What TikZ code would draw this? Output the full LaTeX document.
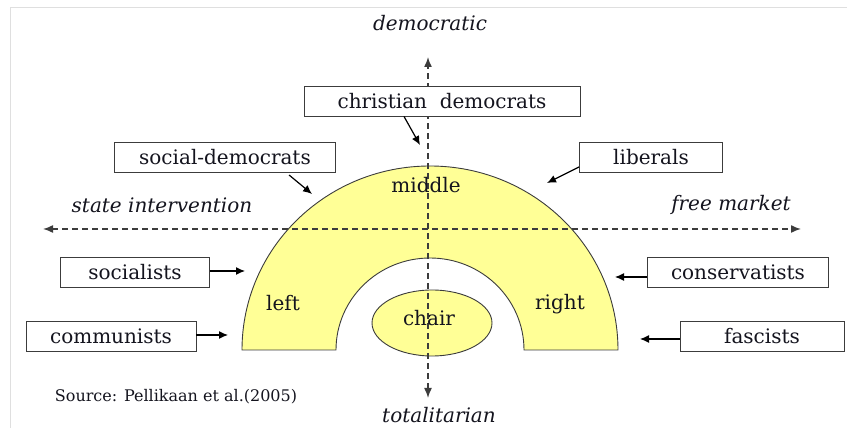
\documentclass[tikz,border=0pt]{standalone}
\usepackage{fontspec}
\setmainfont{DejaVu Serif}
\usepackage{tikz}
\usetikzlibrary{arrows.meta}
\definecolor{archfill}{RGB}{255,255,150}
\definecolor{inkcol}{RGB}{20,20,30}
\definecolor{linecol}{RGB}{60,60,60}

\begin{document}
\begin{tikzpicture}[x=1pt, y=1pt,
      txt/.style={font=\fontsize{20}{22}\selectfont, text=inkcol, inner sep=0pt},
      slant/.style={txt, font=\fontsize{20}{22}\selectfont\itshape},
      party/.style={txt, draw=linecol, fill=white, line width=0.9pt, minimum height=30pt},
      axis/.style={{Latex[length=10pt,width=8pt]}-{Latex[length=10pt,width=8pt]}, dash pattern=on 6pt off 4pt, line width=1.5pt, draw=linecol},
      pointer/.style={-{Latex[length=9pt,width=8pt]}, line width=1.2pt, draw=black}]
      \useasboundingbox (0,0) rectangle (847,428);
      \draw[gray!25, line width=1pt] (10,0) -- (10,420) -- (847,420);
      % hemicycle
      \filldraw[fill=archfill, draw=linecol, line width=0.9pt]
        (242,78) arc[start angle=180, end angle=0, x radius=188, y radius=184]
        -- (524,78) arc[start angle=0, end angle=180, x radius=94, y radius=92] -- cycle;
      \filldraw[fill=archfill, draw=linecol, line width=0.9pt] (432,105) ellipse[x radius=60, y radius=33];
      % axes
      \coordinate (top) at (428,371);
      \coordinate (bottom) at (428,30);
      \coordinate (west) at (43,199);
      \coordinate (east) at (801,199);
      \draw[axis] (bottom) -- (top);
      \draw[axis] (west) -- (east);
      \node[slant] (dem) at (430,405) {democratic};
      \node[slant] (tot) at (439,13) {totalitarian};
      \node[slant] (state) at (162,223) {state intervention};
      \node[slant] (free) at (731,223) {free market};
      \node[txt] (middle) at (426,243) {middle};
      \node[txt] (left) at (283,125) {left};
      \node[txt] (right) at (560,124) {right};
      \node[txt] (chair) at (429,110) {chair};
      \node[txt, font=\fontsize{16}{18}\selectfont] (source) at (176,31) {Source: Pellikaan et al.(2005)};
      % parties
      \node[party, minimum width=276pt] (cd) at (442,327) {christian~~democrats};
      \node[party, minimum width=221pt] (sd) at (225,271) {social-democrats};
      \node[party, minimum width=143pt] (lib) at (651,271) {liberals};
      \node[party, minimum width=149pt] (soc) at (135,156) {socialists};
      \node[party, minimum width=170pt] (com) at (111,92) {communists};
      \node[party, minimum width=181pt] (cons) at (738,156) {conservatists};
      \node[party, minimum width=164pt] (fasc) at (762,92) {fascists};
      \coordinate (cdend) at (420,283);
      \coordinate (sdend) at (312,234);
      \coordinate (libend) at (547,245);
      \coordinate (socend) at (245,157);
      \coordinate (comend) at (228,93);
      \coordinate (consend) at (615,151);
      \coordinate (fascend) at (640,89);
      \draw[pointer] ([xshift=-38pt]cd.south) -- (cdend);
      \draw[pointer, shorten <=4pt] ([xshift=61pt]sd.south) -- (sdend);
      \draw[pointer] ([yshift=-10pt]lib.west) -- (libend);
      \draw[pointer] ([yshift=1pt]soc.east) -- (socend);
      \draw[pointer] ([yshift=1pt]com.east) -- (comend);
      \draw[pointer] ([yshift=-5pt]cons.west) -- (consend);
      \draw[pointer] ([yshift=-3pt]fasc.west) -- (fascend);
\end{tikzpicture}
\end{document}
